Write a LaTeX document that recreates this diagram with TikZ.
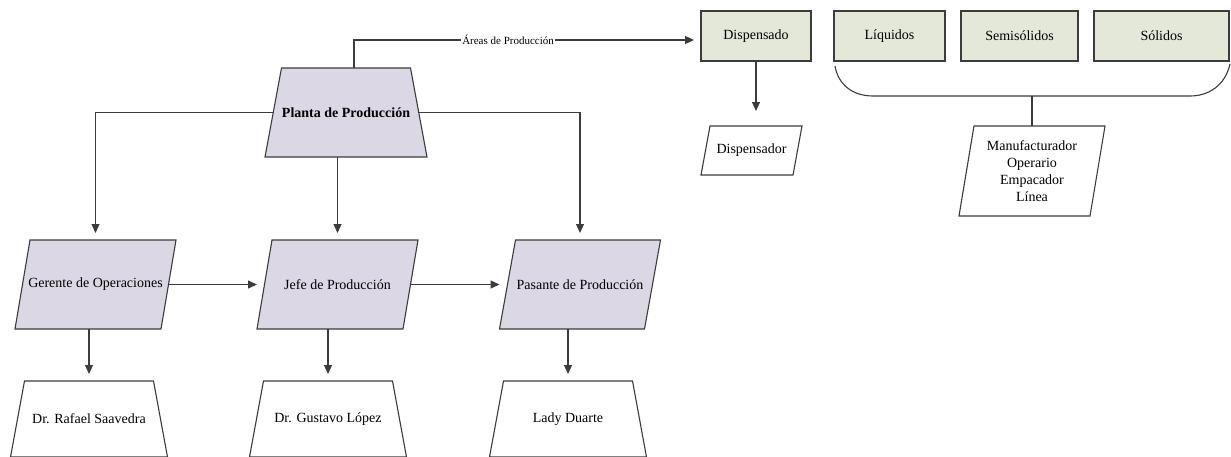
\documentclass[tikz,border=0pt]{standalone}
\usepackage{fontspec}
\setmainfont{Liberation Serif}
\newfontfamily\chartserif{Liberation Serif}
\usetikzlibrary{arrows.meta,calc,backgrounds}
\definecolor{lav}{RGB}{219,215,229}
\definecolor{sage}{RGB}{227,232,216}
\definecolor{ink}{RGB}{60,60,60}

% outline of a box leaning to the right: #2 node, #3 slant
\newcommand\leanoutline[3][white]{%
  \draw[outline, fill=#1] (#2.south west) -- ([xshift=#3]#2.north west)
    -- (#2.north east) -- ([xshift=-#3]#2.south east) -- cycle;}
% outline of a box narrower at the top: #2 node, #3 inset of the top corners
\newcommand\roofoutline[3][white]{%
  \draw[outline, fill=#1] ([xshift=#3]#2.north west) -- ([xshift=-#3]#2.north east)
    -- (#2.south east) -- (#2.south west) -- cycle;}

\begin{document}
\begin{tikzpicture}[x=1pt,y=-1pt,
  every node/.style={inner sep=0pt, outer sep=0pt, align=center,
    font=\chartserif\fontsize{14}{17}\selectfont},
  outline/.style={draw=ink, line width=1.1pt},
  role/.style={minimum width=161pt, minimum height=89pt},
  person/.style={minimum width=157pt, minimum height=76pt},
  area/.style={outline, fill=sage, minimum height=50pt},
  link/.style={draw=ink, line width=1.1pt},
  arr/.style={link, -{Triangle[length=9pt,width=8pt]}, shorten >=7pt},
]
\useasboundingbox (0,0) rectangle (1231,456);

% head of the plant
\node[minimum width=162pt, minimum height=89pt,
  font=\chartserif\fontsize{14}{17}\selectfont\bfseries] (planta) at (346,112.5) {Planta de Producción};

% roles
\node[role] (ger)  at (95.5,284.5) {Gerente de Operaciones};
\node[role] (jefe) at (337.5,284.5) {Jefe de Producción};
\node[role] (pas)  at (580,284.5) {Pasante de Producción};

% people
\node[person] (raf)  at (89,419)  {Dr. Rafael Saavedra};
\node[person] (gus)  at (328,419) {Dr. Gustavo López};
\node[person] (lady) at (568,419) {Lady Duarte};

% production areas
\node[area, minimum width=110pt] (disp) at (756,36)    {Dispensado};
\node[area, minimum width=111pt] (liq)  at (889.5,36)  {Líquidos};
\node[area, minimum width=117pt] (semi) at (1019.5,36) {Semisólidos};
\node[area, minimum width=135pt] (sol)  at (1161.5,36) {Sólidos};

\node[minimum width=101pt, minimum height=49pt] (dor) at (751.5,150.5) {Dispensador};
\node[minimum width=146pt, minimum height=90pt] (man) at (1032,171)
  {Manufacturador\\Operario\\Empacador\\Línea};

% shape outlines behind the texts
\begin{pgfonlayer}{background}
  \roofoutline[lav]{planta}{16.5pt}
  \leanoutline[lav]{ger}{15pt}
  \leanoutline[lav]{jefe}{15pt}
  \leanoutline[lav]{pas}{16pt}
  \roofoutline{raf}{14pt}
  \roofoutline{gus}{14pt}
  \roofoutline{lady}{14pt}
  \leanoutline{dor}{9pt}
  \leanoutline{man}{15pt}
\end{pgfonlayer}

% connectors
\draw[arr] ([xshift=8pt]planta.north) |- ([yshift=-4pt]disp.west)
  node[pos=0.722, fill=white, inner sep=1pt, font=\chartserif\fontsize{11}{13}\selectfont] {Áreas de Producción};
\draw[arr] ([xshift=8pt]planta.west) -| (ger.north);
\draw[arr] ([xshift=-8pt]planta.east) -| (pas.north);
\draw[arr] (planta.south -| jefe.north) -- (jefe.north);

\draw[arr, shorten >=0pt] ([xshift=-7.5pt]ger.east) -- (jefe.west);
\draw[arr, shorten >=0pt] ([xshift=-7.5pt]jefe.east) -- (pas.west);

\draw[arr] (raf.north |- ger.south) -- (raf.north);
\draw[arr] (gus.north |- jefe.south) -- (gus.north);
\draw[arr] (lady.north |- pas.south) -- (lady.north);

\draw[arr, shorten >=15pt] (disp.south) -- (disp.south |- dor.north);

% bracket joining the three product lines
\coordinate (bl) at ($(liq.south west)+(1,5)$);
\coordinate (br) at ($(sol.south east)+(1,3)$);
\coordinate (rail) at ($(bl)+(38,30)$);
\draw[link] (bl) .. controls ($(bl)+(3,18)$) and ($(bl)+(17,30)$) .. (rail)
  -- ($(br)+(-40,32)$) .. controls ($(br)+(-22,32)$) and ($(br)+(-5,22)$) .. (br);
\draw[link] (man.north) -- (man.north |- rail);
\end{tikzpicture}
\end{document}
